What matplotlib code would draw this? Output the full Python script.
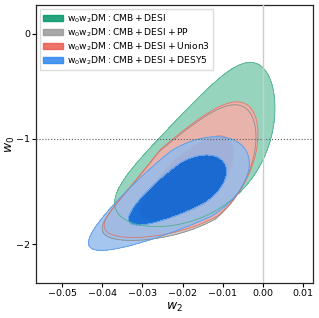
import numpy as np
import matplotlib
matplotlib.use("Agg")
import matplotlib.pyplot as plt
from matplotlib.patches import Patch

labels = [
    r"$\mathrm{w_0w_2DM:CMB+DESI}$",
    r"$\mathrm{w_0w_2DM:CMB+DESI+PP}$",
    r"$\mathrm{w_0w_2DM:CMB+DESI+Union3}$",
    r"$\mathrm{w_0w_2DM:CMB+DESI+DESY5}$",
]
# posterior shapes (peak, tilt, spread, bend, tail)
peak_w2 = [-0.0138, -0.0188, -0.0183, -0.0178]
peak_w0 = [-1.173, -1.442, -1.414, -1.425]
tilt_deg = [46.2, 40.3, 40.3, 31.7]
spread_up = [1.031, 0.951, 0.951, 0.640]
spread_down = [1.031, 0.951, 0.951, 1.200]
spread_perp = [0.480, 0.440, 0.440, 0.385]
bend = [0.0834, 0.0757, 0.0757, 0.0]
tail = [0.0, 0.18, 0.18, 0.13]

unit_w2, unit_w0 = 0.01, 0.381   # one shape unit on each axis

fill_inner = [(0.0, 0.59, 0.41, 1.0), (0.59, 0.59, 0.59, 1.0),
              (0.90, 0.45, 0.41, 1.0), (0.02, 0.41, 0.87, 0.9)]
fill_outer = [(0.59, 0.83, 0.745, 1.0), (0.80, 0.80, 0.80, 1.0),
              (0.91, 0.70, 0.667, 1.0), (0.585, 0.737, 0.93, 0.85)]
line_col = ["#4cb28c", "#8c8c8c", "#d9786c", "#5a9ae8"]
legend_col = ["#00966a", "#999999", "#eb5a4e", "#2c86ef"]
levels = [0, 2.30, 6.18]

fig = plt.figure(figsize=(3.19, 3.18), dpi=100)
ax = fig.add_axes([0.113, 0.110, 0.868, 0.874])

xx = np.linspace(-0.0565, 0.0125, 600)
yy = np.linspace(-2.37, 0.27, 600)
X, Y = np.meshgrid(xx, yy)

for i in range(len(labels)):
    dx = (X - peak_w2[i]) / unit_w2
    dy = (Y - peak_w0[i]) / unit_w0
    th = np.radians(tilt_deg[i])
    u = dx * np.cos(th) + dy * np.sin(th)
    v = -dx * np.sin(th) + dy * np.cos(th)
    a = np.where(u > 0, spread_up[i], spread_down[i])
    b = spread_perp[i] * np.exp(tail[i] * np.minimum(u, 0))
    chi2 = (u / a) ** 2 + ((v - bend[i] * u ** 2) / b) ** 2
    ax.contourf(X, Y, chi2, levels=levels, colors=[fill_inner[i], fill_outer[i]], zorder=2 + i)
    # 1-sigma edge stays with its own layer, 2-sigma edge shows through
    ax.contour(X, Y, chi2, levels=[levels[1]], colors=line_col[i], linewidths=0.5, zorder=2 + i)
    ax.contour(X, Y, chi2, levels=[levels[2]], colors=line_col[i], linewidths=0.6,
               zorder=8 if i < 3 else 9)

ax.axhline(-1, color="0.35", ls=":", lw=0.8, zorder=10)
ax.axvline(0, color="0.8", lw=1.0, zorder=10)

ax.set_xlim(-0.0565, 0.0125)
ax.set_ylim(-2.37, 0.27)
ax.set_xticks([-0.05, -0.04, -0.03, -0.02, -0.01, 0.0, 0.01])
ax.set_yticks([-2, -1, 0])
ax.tick_params(labelsize=6.8, length=3, width=0.8, pad=1.2)
ax.set_xlabel(r"$w_2$", fontsize=9, labelpad=2)
ax.set_ylabel(r"$w_0$", fontsize=9)
ax.yaxis.set_label_coords(-0.068, 0.5)
for s in ax.spines.values():
    s.set_linewidth(0.9)
    s.set_color("0.15")

handles = [Patch(facecolor=c, edgecolor=c, alpha=0.85) for c in legend_col]
ax.legend(handles, labels, loc="upper left", fontsize=6.6, frameon=True,
          handlelength=2.1, handleheight=0.7, handletextpad=0.45, borderpad=0.4,
          labelspacing=0.15, borderaxespad=0.4, fancybox=False, framealpha=0.9,
          edgecolor="0.85")

fig.savefig("out.png", dpi=100)
